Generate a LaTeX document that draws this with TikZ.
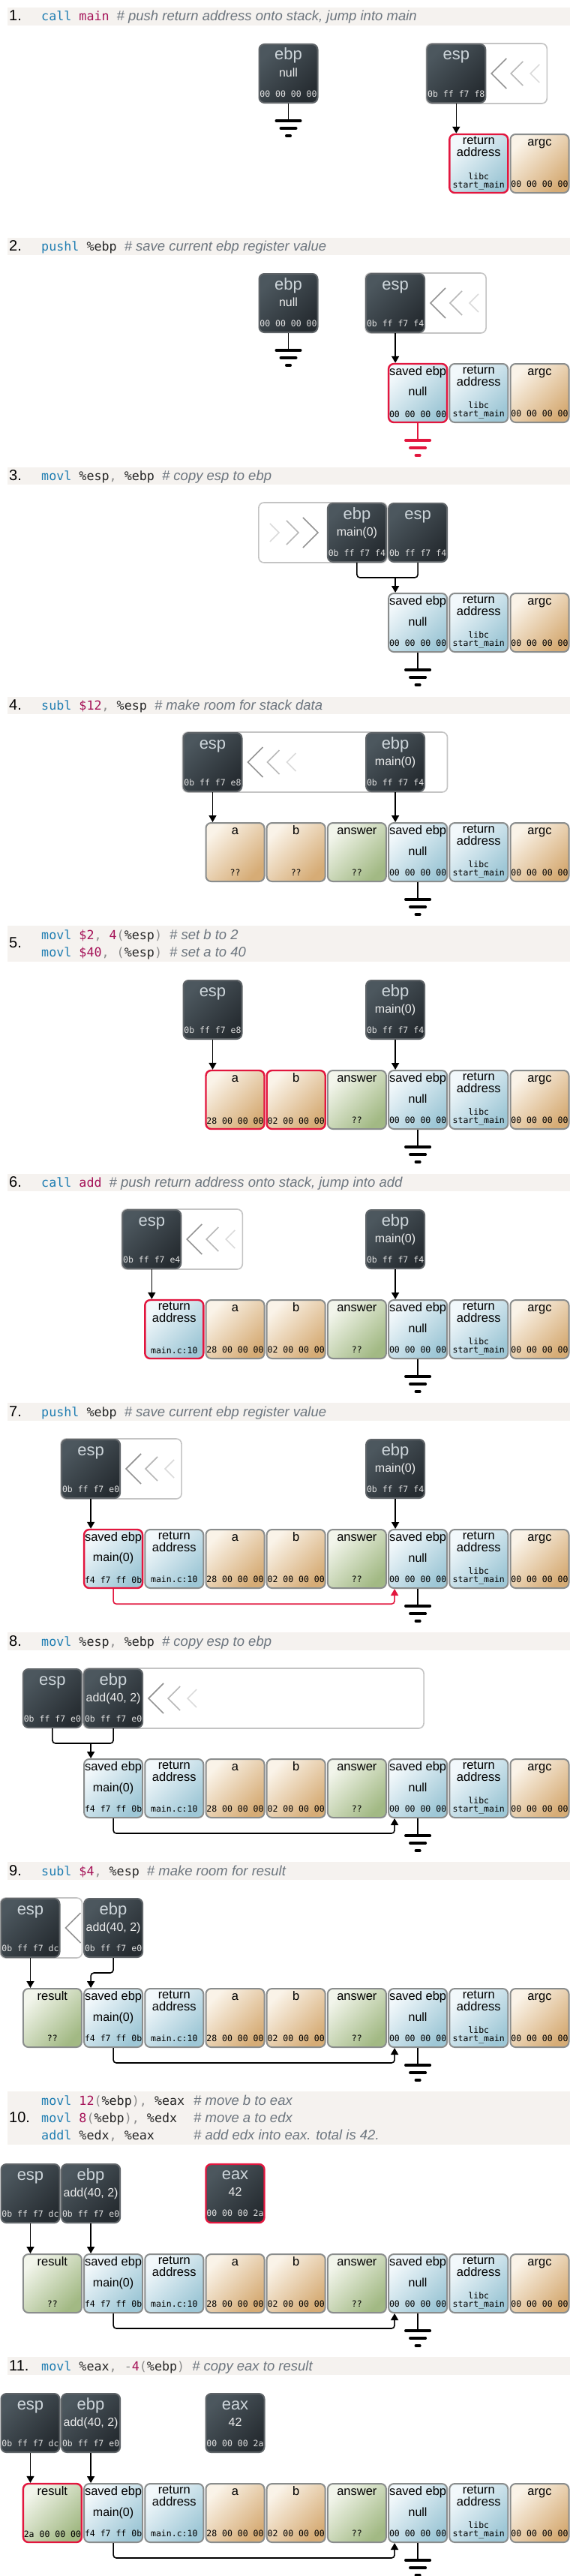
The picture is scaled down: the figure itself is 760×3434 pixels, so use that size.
\documentclass[tikz,border=0pt]{standalone}
\usepackage{fontspec}
\setmainfont{Liberation Sans}
\setmonofont{DejaVu Sans Mono}
\usepackage{tikz}
\usetikzlibrary{arrows.meta, positioning, calc, backgrounds}
\definecolor{bandcolor}{RGB}{245,242,239}
\definecolor{opcolor}{RGB}{30,125,178}
\definecolor{argcolor}{RGB}{165,18,88}
\definecolor{puncolor}{RGB}{140,140,140}
\definecolor{cmtcolor}{RGB}{108,117,126}
\definecolor{regtop}{RGB}{76,87,94}
\definecolor{regbot}{RGB}{38,44,49}
\definecolor{regline}{RGB}{95,100,104}
\definecolor{regnamecolor}{RGB}{205,213,218}
\definecolor{cellline}{RGB}{138,141,141}
\definecolor{bluetop}{RGB}{242,248,251}
\definecolor{bluebot}{RGB}{158,199,214}
\definecolor{tantop}{RGB}{250,243,232}
\definecolor{tanbot}{RGB}{214,172,118}
\definecolor{greentop}{RGB}{242,245,235}
\definecolor{greenbot}{RGB}{162,185,132}
\definecolor{hlred}{RGB}{226,22,62}
\definecolor{trailline}{RGB}{196,196,196}

\newcommand{\asmop}[1]{\textcolor{opcolor}{#1}}
\newcommand{\asmarg}[1]{\textcolor{argcolor}{#1}}
\newcommand{\asmreg}[1]{\textcolor{black!85}{#1}}
\newcommand{\asmpun}[1]{\textcolor{puncolor}{#1}}
\newcommand{\asmcmt}[1]{{\fontsize{18.5}{22}\selectfont\rmfamily\itshape\color{cmtcolor}#1}}

% register box: [style]{name}{position}{register}{value}{bytes}
\newcommand{\regbox}[6][]{%
  \node[reg,#1] (#2) at (#3) {};
  \node[regname] (#2-t) at ([yshift=-22pt]#2.north) {#4};
  \node[regval] (#2-m) at ([yshift=-44pt]#2.north) {#5};
  \node[reghex] (#2-b) at ([yshift=-71pt]#2.north) {#6};
}
% stack cell: [kind]{name}{position}{label}{value}{bytes}
\newcommand{\cellbox}[6][]{%
  \node[#1] (#2) at (#3) {};
  \node[celltop] (#2-t) at ([yshift=-4pt]#2.north) {#4};
  \node[cellmid] (#2-m) at ([yshift=-44pt]#2.north) {#5};
  \node[cellbot] (#2-b) at ([yshift=5pt]#2.south) {#6};
}

\begin{document}
\begin{tikzpicture}[
    x=1pt, y=-1pt,
    band/.style={anchor=north west, fill=bandcolor, minimum width=750pt, inner sep=0},
    stepno/.style={anchor=base west, inner sep=0, font=\fontsize{20}{24}\selectfont},
    code/.style={anchor=base west, inner sep=0, font=\ttfamily\fontsize{16.7}{20}\selectfont},
    cmt/.style={anchor=base west, inner sep=0, font=\fontsize{18.5}{22}\selectfont\itshape, text=cmtcolor},
    reg/.style={rectangle, rounded corners=7pt, draw=regline, line width=2pt, minimum width=78pt, minimum height=78pt, inner sep=0, top color=regtop, bottom color=regbot, shading angle=45},
    regname/.style={anchor=base, inner sep=0, text=regnamecolor, font=\fontsize{22}{26}\selectfont},
    regval/.style={anchor=base, inner sep=0, text=white!92!black, font=\fontsize{16}{19}\selectfont},
    reghex/.style={anchor=base, inner sep=0, text=white!88!black, font=\ttfamily\fontsize{11.5}{13}\selectfont},
    cell/.style={rectangle, rounded corners=7pt, draw=cellline, line width=2pt, minimum width=78pt, minimum height=78pt, inner sep=0},
    retcell/.style={cell, top color=bluetop, bottom color=bluebot, shading angle=45},
    tancell/.style={cell, top color=tantop, bottom color=tanbot, shading angle=45},
    varcell/.style={cell, top color=greentop, bottom color=greenbot, shading angle=45},
    hl/.style={draw=hlred, line width=2.4pt},
    celltop/.style={anchor=north, inner sep=0, align=center, font=\fontsize{16.5}{16}\selectfont, execute at begin node={\rule{0pt}{12.5pt}}},
    cellmid/.style={anchor=base, inner sep=0, font=\fontsize{16}{19}\selectfont},
    cellbot/.style={anchor=south, inner sep=0, align=center, font=\ttfamily\fontsize{11.5}{11}\selectfont, execute at end node={\rule[-3pt]{0pt}{3pt}}},
    trail/.style={draw=trailline, line width=1.6pt, rounded corners=7pt, fill=white},
    wire/.style={line width=1.6pt, rounded corners=4pt},
    ptr/.style={wire, -{Triangle[width=10pt,length=9pt]}},
    ground/.pic={
      \draw[line width=1.6pt] (0,0) -- (0,23);
      \draw[line width=3.6pt, line cap=round] (-16.2,23) -- (16.2,23) (-10.2,33) -- (10.2,33) (-2.7,43) -- (2.7,43);
    },
    chevl/.pic={
      \foreach \chk in {1,...,#1}{
        \pgfmathsetmacro{\chh}{24-4*\chk}
        \pgfmathsetmacro{\cht}{26*\chk-19}
        \pgfmathtruncatemacro{\chc}{56-14*\chk}
        \draw[black!\chc, line width=1.6pt] (\cht+\chh,-\chh) -- (\cht,0) -- (\cht+\chh,\chh);
      }
    },
    chevr/.pic={
      \foreach \chk in {1,...,#1}{
        \pgfmathsetmacro{\chh}{24-4*\chk}
        \pgfmathsetmacro{\cht}{14-26*\chk}
        \pgfmathtruncatemacro{\chc}{56-14*\chk}
        \draw[black!\chc, line width=1.6pt] (\cht-\chh,-\chh) -- (\cht,0) -- (\cht-\chh,\chh);
      }
    }
]
\useasboundingbox (0,0) rectangle (760,3434);
\begin{scope}[on background layer]
  \fill[white] (0,0) rectangle (760,3434);
\end{scope}

% Headers
\node[band, minimum height=23.5pt] (h1) at (10,10) {};
\node[stepno] (h1-n) at (12,28) {1.};
\node[code] (h1-c) at (55,28) {\asmop{call} \asmarg{main} \asmcmt{\# push return address onto stack, jump into main}};

\node[band, minimum height=23.5pt] (h2) at (10,316.5) {};
\node[stepno] (h2-n) at (12,334.5) {2.};
\node[code] (h2-c) at (55,334.5) {\asmop{pushl} \asmreg{\%ebp} \asmcmt{\# save current ebp register value}};

\node[band, minimum height=23.5pt] (h3) at (10,622.5) {};
\node[stepno] (h3-n) at (12,640.5) {3.};
\node[code] (h3-c) at (55,640.5) {\asmop{movl} \asmreg{\%esp}\asmpun{,} \asmreg{\%ebp} \asmcmt{\# copy esp to ebp}};

\node[band, minimum height=23.5pt] (h4) at (10,928.5) {};
\node[stepno] (h4-n) at (12,946.5) {4.};
\node[code] (h4-c) at (55,946.5) {\asmop{subl} \asmarg{\$12}\asmpun{,} \asmreg{\%esp} \asmcmt{\# make room for stack data}};

\node[band, minimum height=48pt] (h5) at (10,1234) {};
\node[stepno] (h5-n) at (12,1263.5) {5.};
\node[code] (h5-c1) at (55,1252) {\asmop{movl} \asmarg{\$2}\asmpun{,} \asmarg{4}\asmpun{(}\asmreg{\%esp}\asmpun{)} \asmcmt{\# set b to 2}};
\node[code] (h5-c2) at (55,1275) {\asmop{movl} \asmarg{\$40}\asmpun{,} \asmpun{(}\asmreg{\%esp}\asmpun{)} \asmcmt{\# set a to 40}};

\node[band, minimum height=23.5pt] (h6) at (10,1564.5) {};
\node[stepno] (h6-n) at (12,1582.5) {6.};
\node[code] (h6-c) at (55,1582.5) {\asmop{call} \asmarg{add} \asmcmt{\# push return address onto stack, jump into add}};

\node[band, minimum height=23.5pt] (h7) at (10,1870) {};
\node[stepno] (h7-n) at (12,1888) {7.};
\node[code] (h7-c) at (55,1888) {\asmop{pushl} \asmreg{\%ebp} \asmcmt{\# save current ebp register value}};

\node[band, minimum height=23.5pt] (h8) at (10,2176) {};
\node[stepno] (h8-n) at (12,2194) {8.};
\node[code] (h8-c) at (55,2194) {\asmop{movl} \asmreg{\%esp}\asmpun{,} \asmreg{\%ebp} \asmcmt{\# copy esp to ebp}};

\node[band, minimum height=23.5pt] (h9) at (10,2482) {};
\node[stepno] (h9-n) at (12,2500) {9.};
\node[code] (h9-c) at (55,2500) {\asmop{subl} \asmarg{\$4}\asmpun{,} \asmreg{\%esp} \asmcmt{\# make room for result}};

\node[band, minimum height=71pt] (h10) at (10,2788) {};
\node[stepno] (h10-n) at (12,2829) {10.};
\node[code] (h10-c1) at (55,2806) {\asmop{movl} \asmarg{12}\asmpun{(}\asmreg{\%ebp}\asmpun{),} \asmreg{\%eax}};
\node[code] (h10-c2) at (55,2829) {\asmop{movl} \asmarg{8}\asmpun{(}\asmreg{\%ebp}\asmpun{),} \asmreg{\%edx}};
\node[code] (h10-c3) at (55,2852) {\asmop{addl} \asmreg{\%edx}\asmpun{,} \asmreg{\%eax}};
\node[cmt] (h10-k1) at (258,2806) {\# move b to eax};
\node[cmt] (h10-k2) at (258,2829) {\# move a to edx};
\node[cmt] (h10-k3) at (258,2852) {\# add edx into eax. total is 42.};

\node[band, minimum height=23.5pt] (h11) at (10,3142) {};
\node[stepno] (h11-n) at (12,3160) {11.};
\node[code] (h11-c) at (55,3160) {\asmop{movl} \asmreg{\%eax}\asmpun{,} \asmpun{-}\asmarg{4}\asmpun{(}\asmreg{\%ebp}\asmpun{)} \asmcmt{\# copy eax to result}};

% Stack cells shared by the steps
\foreach \st/\y in {1/218,2/524,3/830,4/1136,5/1466,6/1772,7/2078,8/2384,9/2690,10/3044,11/3350}{
  \cellbox[tancell]{s\st-argc}{719.5,\y}{argc}{}{00 00 00 00}
}
\cellbox[retcell,hl]{s1-ret}{638.3,218}{return\\address}{}{libc\\start\_main}
\foreach \st/\y in {2/524,3/830,4/1136,5/1466,6/1772,7/2078,8/2384,9/2690,10/3044,11/3350}{
  \cellbox[retcell]{s\st-ret}{638.3,\y}{return\\address}{}{libc\\start\_main}
}
\cellbox[retcell,hl]{s2-sebp}{557.1,524}{saved ebp}{null}{00 00 00 00}
\pic[color=hlred] at (s2-sebp.south) {ground};
\foreach \st/\y in {3/830,4/1136,5/1466,6/1772,7/2078,8/2384,9/2690,10/3044,11/3350}{
  \cellbox[retcell]{s\st-sebp}{557.1,\y}{saved ebp}{null}{00 00 00 00}
  \pic at (s\st-sebp.south) {ground};
}
\foreach \st/\y in {4/1136,5/1466,6/1772,7/2078,8/2384,9/2690,10/3044,11/3350}{
  \cellbox[varcell]{s\st-ans}{475.9,\y}{answer}{}{??}
}
\cellbox[tancell]{s4-a}{313.5,1136}{a}{}{??}
\cellbox[tancell]{s4-b}{394.7,1136}{b}{}{??}
\cellbox[tancell,hl]{s5-a}{313.5,1466}{a}{}{28 00 00 00}
\cellbox[tancell,hl]{s5-b}{394.7,1466}{b}{}{02 00 00 00}
\foreach \st/\y in {6/1772,7/2078,8/2384,9/2690,10/3044,11/3350}{
  \cellbox[tancell]{s\st-a}{313.5,\y}{a}{}{28 00 00 00}
  \cellbox[tancell]{s\st-b}{394.7,\y}{b}{}{02 00 00 00}
}
\cellbox[retcell,hl]{s6-retm}{232.3,1772}{return\\address}{}{main.c:10}
\foreach \st/\y in {7/2078,8/2384,9/2690,10/3044,11/3350}{
  \cellbox[retcell]{s\st-retm}{232.3,\y}{return\\address}{}{main.c:10}
}
\cellbox[retcell,hl]{s7-sebpm}{151.1,2078}{saved ebp}{main(0)}{f4 f7 ff 0b}
\draw[ptr, draw=hlred] (s7-sebpm.south) -- ++(0,20) -| ([xshift=9pt]s7-sebp.south west);
\foreach \st/\y in {8/2384,9/2690,10/3044,11/3350}{
  \cellbox[retcell]{s\st-sebpm}{151.1,\y}{saved ebp}{main(0)}{f4 f7 ff 0b}
  \draw[ptr] (s\st-sebpm.south) -- ++(0,20) -| ([xshift=9pt]s\st-sebp.south west);
}
\foreach \st/\y in {9/2690,10/3044}{
  \cellbox[varcell]{s\st-res}{69.9,\y}{result}{}{??}
}
\cellbox[varcell,hl]{s11-res}{69.9,3350}{result}{}{2a 00 00 00}

% Step 1
\regbox{s1-ebp}{384.5,98}{ebp}{null}{00 00 00 00}
\pic at (s1-ebp.south) {ground};
\regbox{s1-esp}{608.3,98}{esp}{}{0b ff f7 f8}
\begin{scope}[on background layer]
  \draw[trail] (s1-esp.north west) rectangle ([xshift=81pt]s1-esp.south east);
  \pic at (s1-esp.east) {chevl=3};
\end{scope}
\draw[ptr] (s1-esp.south) -- (s1-esp.south |- s1-ret.north);

% Step 2
\regbox{s2-ebp}{384.5,404}{ebp}{null}{00 00 00 00}
\pic at (s2-ebp.south) {ground};
\regbox{s2-esp}{527.1,404}{esp}{}{0b ff f7 f4}
\begin{scope}[on background layer]
  \draw[trail] (s2-esp.north west) rectangle ([xshift=81pt]s2-esp.south east);
  \pic at (s2-esp.east) {chevl=3};
\end{scope}
\draw[ptr] (s2-esp.south) -- (s2-esp.south |- s2-sebp.north);

% Step 3
\regbox{s3-ebp}{475.9,710}{ebp}{main(0)}{0b ff f7 f4}
\regbox{s3-esp}{557.1,710}{esp}{}{0b ff f7 f4}
\begin{scope}[on background layer]
  \draw[trail] ([xshift=-91pt]s3-ebp.north west) rectangle (s3-ebp.south east);
  \pic at (s3-ebp.west) {chevr=3};
\end{scope}
\coordinate (s3-j) at (527.1,770);
\draw[wire] (s3-ebp.south) |- (s3-j) -| (s3-esp.south);
\draw[ptr] (s3-j) -- (s3-j |- s3-sebp.north);

% Step 4
\regbox{s4-esp}{283.5,1016}{esp}{}{0b ff f7 e8}
\regbox{s4-ebp}{527.1,1016}{ebp}{main(0)}{0b ff f7 f4}
\begin{scope}[on background layer]
  \draw[trail] (s4-esp.north west) rectangle ([xshift=273pt]s4-esp.south east);
  \pic at (s4-esp.east) {chevl=3};
\end{scope}
\draw[ptr] (s4-esp.south) -- (s4-esp.south |- s4-a.north);
\draw[ptr] (s4-ebp.south) -- (s4-ebp.south |- s4-sebp.north);

% Step 5
\regbox{s5-esp}{283.5,1346}{esp}{}{0b ff f7 e8}
\regbox{s5-ebp}{527.1,1346}{ebp}{main(0)}{0b ff f7 f4}
\draw[ptr] (s5-esp.south) -- (s5-esp.south |- s5-a.north);
\draw[ptr] (s5-ebp.south) -- (s5-ebp.south |- s5-sebp.north);

% Step 6
\regbox{s6-esp}{202.3,1652}{esp}{}{0b ff f7 e4}
\regbox{s6-ebp}{527.1,1652}{ebp}{main(0)}{0b ff f7 f4}
\begin{scope}[on background layer]
  \draw[trail] (s6-esp.north west) rectangle ([xshift=81pt]s6-esp.south east);
  \pic at (s6-esp.east) {chevl=3};
\end{scope}
\draw[ptr] (s6-esp.south) -- (s6-esp.south |- s6-retm.north);
\draw[ptr] (s6-ebp.south) -- (s6-ebp.south |- s6-sebp.north);

% Step 7
\regbox{s7-esp}{121.1,1958}{esp}{}{0b ff f7 e0}
\regbox{s7-ebp}{527.1,1958}{ebp}{main(0)}{0b ff f7 f4}
\begin{scope}[on background layer]
  \draw[trail] (s7-esp.north west) rectangle ([xshift=81pt]s7-esp.south east);
  \pic at (s7-esp.east) {chevl=3};
\end{scope}
\draw[ptr] (s7-esp.south) -- (s7-esp.south |- s7-sebpm.north);
\draw[ptr] (s7-ebp.south) -- (s7-ebp.south |- s7-sebp.north);

% Step 8
\regbox{s8-esp}{69.9,2264}{esp}{}{0b ff f7 e0}
\regbox{s8-ebp}{151.1,2264}{ebp}{add(40, 2)}{0b ff f7 e0}
\begin{scope}[on background layer]
  \draw[trail] (s8-ebp.north west) rectangle ([xshift=374pt]s8-ebp.south east);
  \pic at (s8-ebp.east) {chevl=3};
\end{scope}
\coordinate (s8-j) at (121.1,2324);
\draw[wire] (s8-esp.south) |- (s8-j) -| (s8-ebp.south);
\draw[ptr] (s8-j) -- (s8-j |- s8-sebpm.north);

% Step 9
\regbox{s9-esp}{40.5,2570}{esp}{}{0b ff f7 dc}
\regbox{s9-ebp}{151.1,2570}{ebp}{add(40, 2)}{0b ff f7 e0}
\begin{scope}[on background layer]
  \draw[trail] (s9-esp.north west) rectangle ([xshift=29pt]s9-esp.south east);
  \pic at (s9-esp.east) {chevl=1};
\end{scope}
\coordinate (s9-j) at (121.1,2630);
\draw[ptr] (s9-esp.south) -- (s9-esp.south |- s9-res.north);
\draw[ptr] (s9-ebp.south) |- (s9-j) -- (s9-j |- s9-sebpm.north);

% Step 10
\regbox{s10-esp}{40.5,2924}{esp}{}{0b ff f7 dc}
\regbox{s10-ebp}{121.1,2924}{ebp}{add(40, 2)}{0b ff f7 e0}
\regbox[hl]{s10-eax}{313.5,2924}{eax}{42}{00 00 00 2a}
\draw[ptr] (s10-esp.south) -- (s10-esp.south |- s10-res.north);
\draw[ptr] (s10-ebp.south) -- (s10-ebp.south |- s10-sebpm.north);

% Step 11
\regbox{s11-esp}{40.5,3230}{esp}{}{0b ff f7 dc}
\regbox{s11-ebp}{121.1,3230}{ebp}{add(40, 2)}{0b ff f7 e0}
\regbox{s11-eax}{313.5,3230}{eax}{42}{00 00 00 2a}
\draw[ptr] (s11-esp.south) -- (s11-esp.south |- s11-res.north);
\draw[ptr] (s11-ebp.south) -- (s11-ebp.south |- s11-sebpm.north);

\end{tikzpicture}
\end{document}
